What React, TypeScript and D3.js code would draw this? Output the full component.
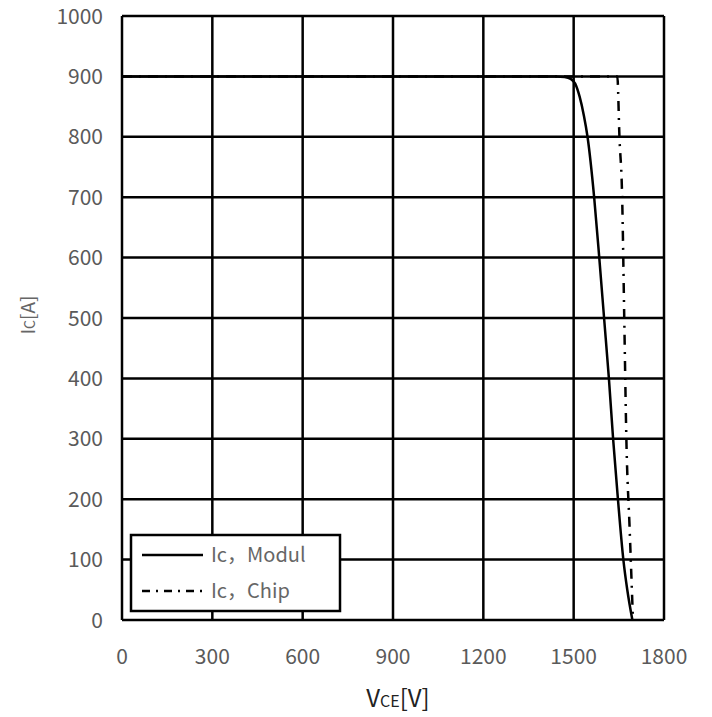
import React from "react";
import * as d3 from "d3";

// Ic vs Vce
const xTicks = [0, 300, 600, 900, 1200, 1500, 1800];
const yTicks = [0, 100, 200, 300, 400, 500, 600, 700, 800, 900, 1000];

const modulV = [0, 1440, 1470, 1490, 1505, 1520, 1534, 1546, 1568, 1585, 1601, 1617, 1631, 1647, 1665, 1678, 1695];
const modulI = [900, 900, 899, 896, 888, 866, 835, 800, 700, 600, 500, 400, 300, 200, 100, 50, 0];

const chipV = [0, 1645, 1652, 1661, 1668, 1675, 1686, 1697];
const chipI = [900, 900, 800, 700, 500, 300, 150, 0];

const legendLabels = ["Ic，Modul", "Ic，Chip"];

const W = 712;
const H = 717;
const margin = { left: 122, right: 48, top: 16, bottom: 97 };
const FONT = "'Noto Sans CJK SC', 'Noto Sans', sans-serif";
const DASHDOT = "10 7 2 7";

export default function App() {
  const x = d3
    .scaleLinear()
    .domain([0, 1800])
    .range([margin.left, W - margin.right]);
  const y = d3
    .scaleLinear()
    .domain([0, 1000])
    .range([H - margin.bottom, margin.top]);

  const line = d3
    .line<[number, number]>()
    .x((d) => x(d[0]))
    .y((d) => y(d[1]))
    .curve(d3.curveMonotoneX);

  const modul: [number, number][] = modulV.map((v, i) => [v, modulI[i]]);
  const chip: [number, number][] = chipV.map((v, i) => [v, chipI[i]]);

  const lx = 131;
  const ly = 535;

  return (
    <svg
      width={W}
      height={H}
      style={{ position: "absolute", left: 0, top: 0, background: "#fff" }}
    >
      {/* grid */}
      {xTicks.map((t) => (
        <line
          key={"gx" + t}
          x1={x(t)}
          x2={x(t)}
          y1={y(0)}
          y2={y(1000)}
          stroke="#000"
          strokeWidth={2.5}
        />
      ))}
      {yTicks.map((t) => (
        <line
          key={"gy" + t}
          x1={x(0)}
          x2={x(1800)}
          y1={y(t)}
          y2={y(t)}
          stroke="#000"
          strokeWidth={2.5}
        />
      ))}

      {/* tick labels */}
      {yTicks.map((t) => (
        <text
          key={"ty" + t}
          x={103}
          y={y(t)}
          dy="0.36em"
          textAnchor="end"
          fontFamily={FONT}
          fontSize={21}
          fill="#5a5a5a"
        >
          {t}
        </text>
      ))}
      {xTicks.map((t) => (
        <text
          key={"tx" + t}
          x={x(t)}
          y={656}
          dy="0.36em"
          textAnchor="middle"
          fontFamily={FONT}
          fontSize={21}
          fill="#5a5a5a"
        >
          {t}
        </text>
      ))}

      {/* axis titles */}
      <text
        x={398}
        y={707}
        textAnchor="middle"
        fontFamily={FONT}
        fill="#222"
      >
        <tspan fontSize={24}>V</tspan>
        <tspan fontSize={16}>CE</tspan>
        <tspan fontSize={24}>[V]</tspan>
      </text>
      <text
        transform="translate(35,315) rotate(-90)"
        textAnchor="middle"
        fontFamily={FONT}
        fill="#666"
      >
        <tspan fontSize={19}>I</tspan>
        <tspan fontSize={14}>C</tspan>
        <tspan fontSize={19}>[A]</tspan>
      </text>

      {/* curves */}
      <path
        d={line(chip) || ""}
        fill="none"
        stroke="#000"
        strokeWidth={2.5}
        strokeDasharray={DASHDOT}
      />
      <path d={line(modul) || ""} fill="none" stroke="#000" strokeWidth={2.5} />

      {/* legend */}
      <rect
        x={lx}
        y={ly}
        width={209}
        height={76}
        fill="#fff"
        stroke="#000"
        strokeWidth={2.5}
      />
      {legendLabels.map((label, i) => (
        <g key={label} transform={`translate(${lx},${ly + 20 + i * 36})`}>
          <line
            x1={11}
            x2={72}
            y1={0}
            y2={0}
            stroke="#000"
            strokeWidth={2.5}
            strokeDasharray={i === 1 ? "8 6 2 6" : undefined}
          />
          <text
            x={80}
            y={0}
            dy="0.36em"
            fontFamily={FONT}
            fontSize={20}
            fill="#666"
          >
            {label}
          </text>
        </g>
      ))}
    </svg>
  );
}
